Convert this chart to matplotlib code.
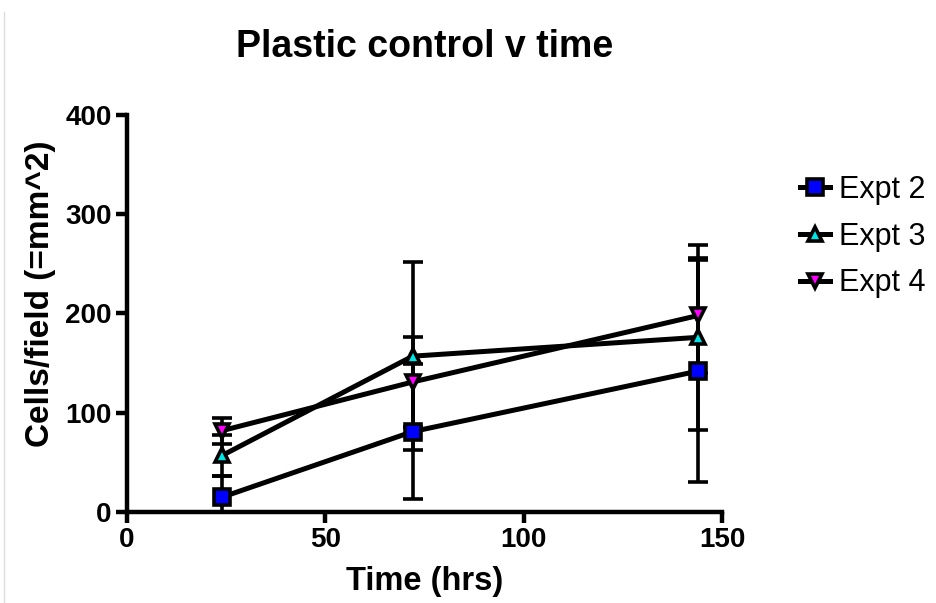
import matplotlib
matplotlib.use('Agg')
import matplotlib.pyplot as plt
from matplotlib.lines import Line2D

plt.rcParams['font.family'] = ['Liberation Sans', 'DejaVu Sans']

# data
time_hrs = [24, 72, 144]
series = ['Expt 2', 'Expt 3', 'Expt 4']
expt2_mean = [15, 81, 142]
expt2_sd = [21, 68, 112]
expt3_mean = [57, 157, 176]
expt3_sd = [21, 95, 93]
expt4_mean = [82, 131, 198]
expt4_sd = [13, 45, 58]

means = [expt2_mean, expt3_mean, expt4_mean]
sds = [expt2_sd, expt3_sd, expt4_sd]
markers = ['s', '^', 'v']
faces = ['#0000FF', '#00E5E5', '#FF00FF']
msizes = [11, 10, 10]

fig = plt.figure(figsize=(9.36, 6.03), dpi=100)
ax = fig.add_axes([0.1357, 0.1509, 0.6357, 0.6584])

handles = []
for name, m, s, mk, fc, ms in zip(series, means, sds, markers, faces, msizes):
    ax.errorbar(time_hrs, m, yerr=s, color='black', lw=3.6, elinewidth=2.6,
                capsize=7, capthick=2.6, marker=mk, ms=ms, mfc=fc, mec='black',
                mew=2.6, clip_on=True, zorder=3)
    handles.append(Line2D([], [], color='black', lw=3.6, marker=mk, ms=ms,
                          mfc=fc, mec='black', mew=2.6, label=name))

ax.set_xlim(0, 150)
ax.set_ylim(0, 400)
ax.set_xticks([0, 50, 100, 150])
ax.set_yticks([0, 100, 200, 300, 400])

for sp in ['top', 'right']:
    ax.spines[sp].set_visible(False)
for sp in ['left', 'bottom']:
    ax.spines[sp].set_linewidth(3.2)
    ax.spines[sp].set_zorder(4)
ax.tick_params(direction='out', length=8, width=3.2, labelsize=20, pad=3)
for lab in ax.get_xticklabels() + ax.get_yticklabels():
    lab.set_fontweight('bold')

ax.set_xlabel('Time (hrs)', fontsize=23.5, fontweight='bold', labelpad=9)
ax.set_ylabel('Cells/field (=mm^2)', fontsize=24, fontweight='bold')
ax.yaxis.set_label_coords(-0.12, 0.55)
ax.set_title('Plastic control v time', fontsize=27, fontweight='bold', pad=42)

ax.legend(handles=handles, loc='upper left', bbox_to_anchor=(1.11, 0.88),
          frameon=False, fontsize=22, handlelength=1.0, handletextpad=0.3,
          labelspacing=0.55, borderaxespad=0)

fig.add_artist(Line2D([4 / 936, 4 / 936], [0, 1 - 12 / 603], color='#dddddd', lw=1))

fig.savefig('out.png', dpi=100)
